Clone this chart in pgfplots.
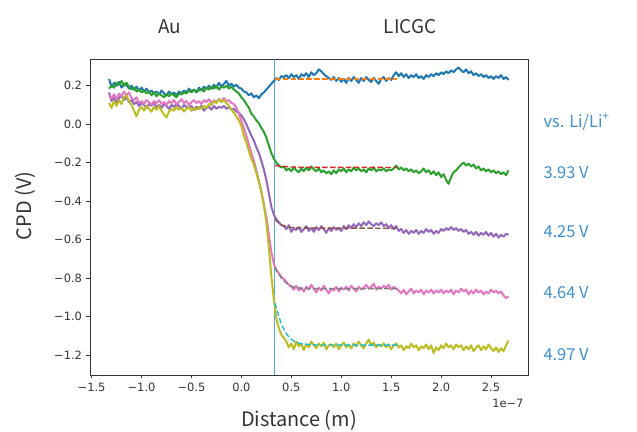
\documentclass[border=0pt]{standalone}
\usepackage{fontspec}
\setmainfont{DejaVu Sans}
\newfontfamily\jp{Noto Sans CJK JP}
\usepackage{pgfplots}
\usepackage{pgfplotstable}
\pgfplotsset{compat=1.18}
\definecolor{C0}{HTML}{1F77B4}
\definecolor{C1}{HTML}{FF7F0E}
\definecolor{C2}{HTML}{2CA02C}
\definecolor{C3}{HTML}{D62728}
\definecolor{C4}{HTML}{9467BD}
\definecolor{C5}{HTML}{8C564B}
\definecolor{C6}{HTML}{E377C2}
\definecolor{C7}{HTML}{7F7F7F}
\definecolor{C8}{HTML}{BCBD22}
\definecolor{C9}{HTML}{17BECF}
\definecolor{VLine}{HTML}{5DA5DA}
\definecolor{Lab}{HTML}{3D8FD1}
\definecolor{Txt}{HTML}{333333}

% CPD profiles, x in units of 1e-7 m; columns: b g p k o
\pgfplotstableread{
x b g p k o
-1.325 0.235 0.185 0.165 0.150 0.110
-1.300 0.195 0.200 0.120 0.135 0.085
-1.275 0.215 0.190 0.140 0.155 0.120
-1.250 0.200 0.215 0.110 0.130 0.095
-1.225 0.220 0.205 0.135 0.160 0.125
-1.200 0.190 0.225 0.150 0.145 0.105
-1.175 0.210 0.200 0.125 0.170 0.140
-1.150 0.205 0.215 0.140 0.150 0.150
-1.125 0.185 0.195 0.115 0.165 0.120
-1.100 0.200 0.180 0.125 0.135 0.100
-1.075 0.180 0.190 0.105 0.125 0.070
-1.050 0.195 0.170 0.115 0.140 0.040
-1.025 0.175 0.180 0.095 0.110 0.075
-1.000 0.190 0.165 0.110 0.120 0.090
-0.975 0.170 0.175 0.100 0.105 0.070
-0.950 0.185 0.160 0.085 0.125 0.095
-0.925 0.165 0.170 0.105 0.115 0.080
-0.900 0.175 0.150 0.095 0.100 0.065
-0.875 0.160 0.165 0.110 0.120 0.090
-0.850 0.170 0.145 0.090 0.110 0.075
-0.825 0.155 0.160 0.100 0.125 0.095
-0.800 0.175 0.150 0.085 0.105 0.070
-0.775 0.160 0.140 0.105 0.115 0.050
-0.750 0.150 0.155 0.095 0.100 0.035
-0.725 0.170 0.145 0.080 0.120 0.065
-0.700 0.155 0.160 0.100 0.110 0.080
-0.675 0.165 0.150 0.090 0.125 0.070
-0.650 0.150 0.140 0.105 0.105 0.090
-0.625 0.170 0.160 0.095 0.115 0.075
-0.600 0.160 0.155 0.080 0.130 0.085
-0.575 0.175 0.165 0.100 0.110 0.065
-0.550 0.165 0.160 0.090 0.120 0.080
-0.525 0.185 0.175 0.085 0.100 0.090
-0.500 0.170 0.165 0.095 0.115 0.070
-0.475 0.180 0.180 0.075 0.125 0.085
-0.450 0.165 0.170 0.090 0.110 0.075
-0.425 0.190 0.175 0.080 0.120 0.090
-0.400 0.175 0.185 0.095 0.105 0.080
-0.375 0.195 0.170 0.070 0.125 0.095
-0.350 0.185 0.190 0.085 0.115 0.085
-0.325 0.200 0.180 0.090 0.130 0.105
-0.300 0.185 0.195 0.075 0.110 0.100
-0.275 0.205 0.185 0.095 0.125 0.120
-0.250 0.190 0.200 0.080 0.115 0.110
-0.225 0.215 0.180 0.090 0.130 0.130
-0.200 0.195 0.195 0.085 0.120 0.115
-0.175 0.210 0.190 0.095 0.135 0.125
-0.150 0.225 0.200 0.080 0.120 0.110
-0.125 0.200 0.185 0.090 0.125 0.095
-0.100 0.210 0.195 0.075 0.110 0.075
-0.075 0.195 0.180 0.080 0.105 0.060
-0.050 0.205 0.170 0.065 0.085 0.040
-0.025 0.190 0.160 0.060 0.055 0.020
0.000 0.185 0.140 0.045 0.015 -0.010
0.025 0.170 0.125 0.025 -0.020 -0.060
0.050 0.165 0.105 0.000 -0.060 -0.095
0.075 0.150 0.085 -0.030 -0.105 -0.140
0.100 0.160 0.055 -0.060 -0.150 -0.180
0.125 0.140 0.040 -0.085 -0.190 -0.210
0.150 0.150 0.020 -0.120 -0.240 -0.255
0.175 0.135 0.005 -0.150 -0.295 -0.300
0.200 0.155 -0.020 -0.190 -0.355 -0.350
0.225 0.165 -0.040 -0.235 -0.415 -0.420
0.250 0.180 -0.070 -0.290 -0.480 -0.510
0.275 0.195 -0.110 -0.360 -0.575 -0.640
0.300 0.210 -0.150 -0.430 -0.665 -0.790
0.325 0.225 -0.180 -0.470 -0.725 -0.910
0.350 0.240 -0.200 -0.495 -0.760 -1.010
0.375 0.230 -0.215 -0.510 -0.775 -1.060
0.400 0.250 -0.225 -0.525 -0.795 -1.095
0.425 0.245 -0.220 -0.530 -0.805 -1.110
0.450 0.255 -0.240 -0.545 -0.820 -1.130
0.475 0.240 -0.230 -0.525 -0.835 -1.160
0.500 0.260 -0.245 -0.560 -0.845 -1.140
0.525 0.245 -0.225 -0.540 -0.860 -1.170
0.550 0.255 -0.240 -0.550 -0.840 -1.130
0.575 0.235 -0.250 -0.535 -0.865 -1.155
0.600 0.260 -0.230 -0.560 -0.850 -1.140
0.625 0.250 -0.245 -0.545 -0.870 -1.175
0.650 0.265 -0.225 -0.530 -0.845 -1.145
0.675 0.245 -0.240 -0.555 -0.860 -1.160
0.700 0.270 -0.220 -0.540 -0.835 -1.130
0.725 0.255 -0.235 -0.560 -0.855 -1.150
0.750 0.265 -0.245 -0.535 -0.875 -1.165
0.775 0.285 -0.230 -0.550 -0.850 -1.140
0.800 0.275 -0.250 -0.530 -0.865 -1.155
0.825 0.260 -0.240 -0.545 -0.840 -1.135
0.850 0.250 -0.255 -0.565 -0.860 -1.170
0.875 0.240 -0.245 -0.540 -0.880 -1.150
0.900 0.230 -0.260 -0.555 -0.855 -1.145
0.925 0.245 -0.240 -0.535 -0.865 -1.160
0.950 0.225 -0.255 -0.550 -0.845 -1.140
0.975 0.240 -0.235 -0.540 -0.870 -1.170
1.000 0.220 -0.245 -0.555 -0.850 -1.150
1.025 0.235 -0.230 -0.530 -0.860 -1.135
1.050 0.215 -0.250 -0.545 -0.845 -1.160
1.075 0.240 -0.235 -0.525 -0.865 -1.145
1.100 0.225 -0.245 -0.540 -0.840 -1.165
1.125 0.245 -0.225 -0.520 -0.855 -1.140
1.150 0.230 -0.240 -0.535 -0.870 -1.155
1.175 0.215 -0.230 -0.515 -0.845 -1.130
1.200 0.240 -0.245 -0.530 -0.860 -1.150
1.225 0.225 -0.235 -0.510 -0.850 -1.165
1.250 0.245 -0.250 -0.525 -0.835 -1.140
1.275 0.230 -0.230 -0.505 -0.855 -1.120
1.300 0.220 -0.240 -0.520 -0.845 -1.150
1.325 0.240 -0.225 -0.530 -0.830 -1.135
1.350 0.225 -0.245 -0.515 -0.860 -1.160
1.375 0.210 -0.235 -0.525 -0.845 -1.145
1.400 0.235 -0.240 -0.510 -0.855 -1.155
1.425 0.245 -0.230 -0.530 -0.840 -1.140
1.450 0.225 -0.245 -0.520 -0.850 -1.160
1.475 0.240 -0.235 -0.540 -0.835 -1.145
1.500 0.230 -0.240 -0.525 -0.860 -1.170
1.525 0.255 -0.230 -0.545 -0.845 -1.150
1.550 0.270 -0.215 -0.530 -0.855 -1.140
1.575 0.250 -0.235 -0.555 -0.865 -1.160
1.600 0.265 -0.225 -0.545 -0.880 -1.150
1.625 0.245 -0.240 -0.565 -0.860 -1.175
1.650 0.260 -0.230 -0.550 -0.885 -1.155
1.675 0.240 -0.245 -0.570 -0.870 -1.165
1.700 0.255 -0.235 -0.555 -0.855 -1.140
1.725 0.245 -0.250 -0.565 -0.880 -1.160
1.750 0.260 -0.240 -0.550 -0.865 -1.150
1.775 0.240 -0.255 -0.570 -0.875 -1.175
1.800 0.250 -0.245 -0.555 -0.860 -1.155
1.825 0.235 -0.230 -0.565 -0.885 -1.165
1.850 0.255 -0.250 -0.545 -0.865 -1.145
1.875 0.245 -0.240 -0.560 -0.875 -1.170
1.900 0.260 -0.260 -0.550 -0.860 -1.150
1.925 0.250 -0.245 -0.570 -0.880 -1.190
1.950 0.265 -0.265 -0.555 -0.865 -1.160
1.975 0.255 -0.250 -0.565 -0.875 -1.175
2.000 0.270 -0.275 -0.545 -0.860 -1.150
2.025 0.260 -0.260 -0.555 -0.880 -1.165
2.050 0.275 -0.290 -0.540 -0.865 -1.140
2.075 0.265 -0.310 -0.550 -0.875 -1.160
2.100 0.280 -0.275 -0.535 -0.860 -1.150
2.125 0.270 -0.250 -0.550 -0.885 -1.170
2.150 0.285 -0.240 -0.540 -0.865 -1.145
2.175 0.295 -0.225 -0.555 -0.875 -1.160
2.200 0.280 -0.210 -0.545 -0.855 -1.150
2.225 0.270 -0.200 -0.560 -0.870 -1.175
2.250 0.285 -0.215 -0.550 -0.860 -1.155
2.275 0.265 -0.205 -0.570 -0.885 -1.170
2.300 0.275 -0.220 -0.560 -0.865 -1.150
2.325 0.255 -0.210 -0.575 -0.880 -1.180
2.350 0.265 -0.230 -0.560 -0.860 -1.160
2.375 0.250 -0.220 -0.580 -0.875 -1.150
2.400 0.260 -0.240 -0.565 -0.865 -1.175
2.425 0.245 -0.230 -0.575 -0.885 -1.155
2.450 0.255 -0.245 -0.560 -0.870 -1.170
2.475 0.240 -0.235 -0.580 -0.880 -1.145
2.500 0.250 -0.250 -0.565 -0.860 -1.165
2.525 0.235 -0.240 -0.585 -0.875 -1.180
2.550 0.250 -0.255 -0.570 -0.865 -1.160
2.575 0.240 -0.245 -0.590 -0.880 -1.185
2.600 0.255 -0.260 -0.575 -0.870 -1.165
2.625 0.235 -0.250 -0.585 -0.890 -1.180
2.650 0.245 -0.265 -0.570 -0.905 -1.150
2.675 0.230 -0.240 -0.575 -0.895 -1.125
}\cpd

\begin{document}
\begin{tikzpicture}
\useasboundingbox (0,0) rectangle (637bp,432bp);
\begin{axis}[at={(90bp,57bp)},anchor=south west,scale only axis,
  width=438bp,height=316bp,
  xmin=-1.516,xmax=2.87,ymin=-1.304,ymax=0.339,
  axis line style={black!80,line width=0.8bp},
  tick style={black!80,line width=0.8bp},
  major tick length=3.5bp,tick align=outside,
  xtick pos=left,ytick pos=left,
  xtick={-1.5,-1,-0.5,0,0.5,1,1.5,2,2.5},
  xticklabels={−1.5,−1.0,−0.5,0.0,0.5,1.0,1.5,2.0,2.5},
  ytick={-1.2,-1,-0.8,-0.6,-0.4,-0.2,0,0.2},
  yticklabels={−1.2,−1.0,−0.8,−0.6,−0.4,−0.2,0.0,0.2},
  tick label style={font=\fontsize{11.5}{13}\selectfont,text=Txt},
  xticklabel style={yshift=-1bp},
  yticklabel style={xshift=-1bp},
  line join=round]
\addplot[VLine,line width=0.9bp] coordinates {(0.333,-1.304) (0.333,0.339)};
\addplot[C0,line width=2bp] table[x=x,y=b]{\cpd};
\addplot[C1,line width=1.4bp,dash pattern=on 5.5bp off 2.4bp] coordinates {(0.335,0.235) (1.56,0.235)};
\addplot[C2,line width=2bp] table[x=x,y=g]{\cpd};
\addplot[C3,line width=1.4bp,dash pattern=on 5.5bp off 2.4bp] coordinates
  {(0.335,-0.214) (0.40,-0.219) (0.48,-0.222) (0.60,-0.224) (1.56,-0.225)};
\addplot[C4,line width=2bp] table[x=x,y=p]{\cpd};
\addplot[C5,line width=1.4bp,dash pattern=on 5.5bp off 2.4bp] coordinates
  {(0.335,-0.495) (0.37,-0.512) (0.40,-0.523) (0.45,-0.532) (0.50,-0.537) (0.60,-0.540) (1.56,-0.541)};
\addplot[C6,line width=2bp] table[x=x,y=k]{\cpd};
\addplot[C7,line width=1.4bp,dash pattern=on 5.5bp off 2.4bp] coordinates
  {(0.335,-0.745) (0.37,-0.775) (0.40,-0.800) (0.44,-0.822) (0.48,-0.838) (0.53,-0.848) (0.60,-0.853) (0.75,-0.855) (1.56,-0.855)};
\addplot[C8,line width=2bp] table[x=x,y=o]{\cpd};
\addplot[C9,line width=1.4bp,dash pattern=on 5.5bp off 2.4bp] coordinates
  {(0.335,-0.93) (0.37,-0.99) (0.40,-1.04) (0.44,-1.08) (0.48,-1.11) (0.53,-1.13) (0.60,-1.142) (0.75,-1.148) (1.56,-1.149)};
\end{axis}
% labels outside the axis
\node[text=Txt,font=\fontsize{11.5}{13}\selectfont,anchor=east] at (527bp,29bp) {1e−7};
\node[text=Txt,font=\jp\fontsize{20}{24}\selectfont] at (299bp,12bp) {Distance (m)};
\node[text=Txt,font=\jp\fontsize{20}{24}\selectfont,rotate=90] at (25bp,226bp) {CPD (V)};
\node[text=Txt,font=\jp\fontsize{19}{23}\selectfont] at (170bp,405bp) {Au};
\node[text=Txt,font=\jp\fontsize{19}{23}\selectfont] at (410bp,405bp) {LICGC};
\begin{scope}[every node/.style={text=Lab,font=\jp\fontsize{16.5}{20}\selectfont,anchor=west}]
\node at (540bp,310bp) {vs. Li/Li\textsuperscript{+}};
\node at (540bp,259bp) {3.93 V};
\node at (540bp,200bp) {4.25 V};
\node at (540bp,139bp) {4.64 V};
\node at (540bp,77bp) {4.97 V};
\end{scope}
\end{tikzpicture}
\end{document}
